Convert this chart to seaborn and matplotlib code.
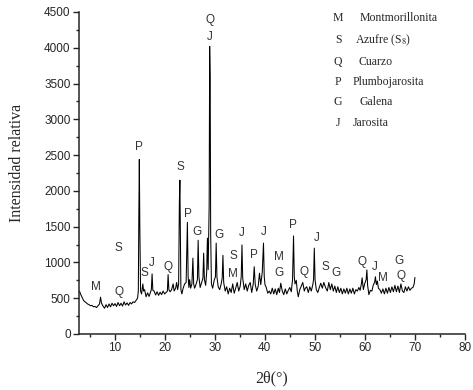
import matplotlib
matplotlib.use("Agg")
import matplotlib.pyplot as plt
from matplotlib.ticker import MultipleLocator
import seaborn as sns

# ----------------------------
# Diffractogram trace (2theta, relative intensity)
# one row of two_theta goes with the same row of intensity
# ----------------------------
two_theta = [
    3.0, 3.2, 3.4, 3.6, 3.8, 4.0, 4.3, 4.6, 4.9, 5.2, 5.5, 5.8, 6.1, 6.4, 6.7, 7.0, 7.2, 7.4, 7.7,
    8.0, 8.3, 8.6, 8.9, 9.2, 9.5, 9.8, 10.1, 10.4, 10.7, 11.0, 11.3, 11.6, 11.9, 12.2, 12.5, 12.8,
    13.1, 13.4, 13.7, 14.0, 14.3, 14.6, 14.75, 14.85, 14.95, 15.05, 15.2, 15.4, 15.65, 15.8, 16.0,
    16.3, 16.6, 16.9, 17.2, 17.35, 17.5, 17.65, 17.9, 18.2, 18.5, 18.8, 19.1, 19.4, 19.7, 20.0,
    20.3, 20.55, 20.7, 20.85, 21.1, 21.4, 21.7, 21.9, 22.2, 22.4, 22.6, 22.8, 22.95, 23.05, 23.15,
    23.25, 23.45, 23.7, 24.0, 24.3, 24.55, 24.7, 24.85, 25.0, 25.2, 25.45, 25.65, 25.8, 26.0, 26.3,
    26.55, 26.7, 26.85, 27.1, 27.4, 27.65, 27.8, 27.95, 28.2, 28.4, 28.55, 28.7, 28.9, 29.0,
    29.1, 29.2, 29.35, 29.6, 29.9, 30.15, 30.3, 30.45, 30.7, 31.0, 31.3, 31.5, 31.65, 31.8, 32.1,
    32.4, 32.7, 33.0, 33.3, 33.6, 33.9, 34.2, 34.5, 34.8, 35.1, 35.3, 35.45, 35.6, 35.9, 36.2,
    36.5, 36.8, 37.1, 37.4, 37.7, 37.9, 38.1, 38.4, 38.7, 38.95, 39.2, 39.5, 39.75, 39.9, 40.05,
    40.3, 40.6, 40.9, 41.2, 41.5, 41.8, 42.1, 42.4, 42.7, 42.95, 43.2, 43.5, 43.8, 44.1, 44.4,
    44.7, 45.0, 45.3, 45.55, 45.75, 45.9, 46.05, 46.3, 46.5, 46.7, 47.0, 47.3, 47.6, 47.9, 48.1,
    48.4, 48.7, 49.0, 49.3, 49.6, 49.75, 49.9, 50.05, 50.3, 50.6, 50.9, 51.2, 51.5, 51.8, 52.2,
    52.5, 52.8, 53.1, 53.4, 53.7, 54.0, 54.3, 54.6, 54.9, 55.2, 55.5, 55.8, 56.1, 56.4, 56.7,
    57.0, 57.3, 57.6, 57.9, 58.2, 58.5, 58.8, 59.05, 59.3, 59.45, 59.7, 59.95, 60.25, 60.4, 60.55,
    60.8, 61.1, 61.4, 61.7, 61.95, 62.1, 62.3, 62.5, 62.7, 63.0, 63.3, 63.6, 63.9, 64.2, 64.5,
    64.8, 65.1, 65.4, 65.7, 66.0, 66.3, 66.6, 66.9, 67.2, 67.5, 67.8, 68.1, 68.4, 68.7, 69.0,
    69.3, 69.6, 69.85, 70.0,
]
intensity = [
    600, 560, 530, 500, 470, 455, 440, 420, 410, 395, 400, 380, 385, 370, 395, 420, 515, 430, 390,
    360, 410, 370, 420, 380, 430, 395, 425, 385, 440, 395, 430, 390, 450, 405, 435, 400,
    440, 420, 450, 440, 470, 500, 600, 1650, 2440, 1500, 600, 560, 700, 600, 620,
    520, 575, 525, 590, 620, 840, 610, 600, 545, 590, 540, 585, 550, 600, 560,
    580, 600, 830, 620, 590, 620, 700, 600, 640, 720, 620, 700, 1850, 2150, 1300,
    620, 560, 640, 700, 720, 1560, 800, 650, 760, 640, 700, 1060, 700, 640, 700,
    760, 1310, 800, 650, 720, 780, 1130, 760, 680, 860, 1340, 900, 1800, 4020,
    3600, 1400, 700, 640, 750, 800, 1270, 800, 660, 620, 700, 780, 1100, 720, 600,
    660, 560, 640, 580, 700, 570, 640, 720, 600, 670, 800, 1245, 780, 620, 700,
    600, 680, 720, 580, 700, 940, 690, 600, 670, 850, 690, 860, 1270, 800, 690,
    650, 570, 600, 560, 640, 560, 630, 550, 640, 580, 710, 600, 550, 630, 560,
    610, 650, 590, 760, 1370, 800, 700, 750, 600, 520, 620, 670, 720, 600, 640,
    660, 580, 660, 600, 690, 760, 1200, 760, 620, 580, 650, 710, 640, 720, 640,
    600, 720, 620, 700, 600, 670, 580, 660, 580, 640, 560, 630, 570, 640, 560,
    630, 570, 640, 560, 620, 600, 650, 610, 700, 785, 620, 700, 760, 895, 680,
    550, 610, 600, 690, 720, 800, 690, 740, 640, 620, 570, 630, 560, 640, 570,
    650, 580, 660, 590, 680, 590, 670, 580, 700, 600, 580, 660, 600, 660, 610,
    640, 650, 700, 790,
]

# Phase letters over the peaks
peak_letters = ["M", "S", "Q", "P", "S", "J", "Q", "S", "P", "G", "Q", "J", "G", "S", "M",
                "J", "P", "J", "M", "G", "P", "Q", "J", "S", "G", "Q", "J", "M", "G", "Q"]
peak_x = [6.3, 10.7, 10.9, 14.9, 15.9, 17.5, 20.7, 23.1, 24.7, 26.5, 29.1, 29.1, 30.9, 33.7, 33.7,
          35.5, 37.9, 39.9, 42.9, 42.9, 45.7, 47.9, 50.3, 52.1, 54.3, 59.5, 61.9, 63.7, 66.9, 67.3]
peak_y = [657, 1201, 587, 2612, 852, 992, 936, 2333, 1676, 1425, 4387, 4149, 1383, 1090, 838,
          1411, 1104, 1425, 1076, 852, 1523, 866, 1341, 936, 852, 1006, 936, 782, 1020, 810]

# Legend key
key_letters = ["M", "S", "Q", "P", "G", "J"]
key_names = ["Montmorillonita", r"Azufre (S$_{8}$)", "Cuarzo", "Plumbojarosita", "Galena", "Jarosita"]

# ----------------------------
# Plot
# ----------------------------
sns.set_style("ticks")
plt.rcParams["font.family"] = ["Liberation Sans", "DejaVu Sans"]
plt.rcParams["mathtext.fontset"] = "stix"

W, H = 473, 390
fig = plt.figure(figsize=(W / 100, H / 100), dpi=100)
ax = fig.add_axes([79 / W, 1 - 334 / H, (465 - 79) / W, (334 - 12) / H])

sns.lineplot(x=two_theta, y=intensity, color="black", linewidth=0.75, ax=ax)

for let, px, py in zip(peak_letters, peak_x, peak_y):
    ax.text(px, py, let, ha="center", va="center", fontsize=8.5, color="#333333")

ax.set_xlim(2.9, 80)
ax.set_ylim(0, 4500)
ax.xaxis.set_major_locator(MultipleLocator(10))
ax.xaxis.set_minor_locator(MultipleLocator(5))
ax.yaxis.set_major_locator(MultipleLocator(500))
ax.yaxis.set_minor_locator(MultipleLocator(250))
ax.set_xticks(range(10, 90, 10))
ax.tick_params(which="major", direction="out", length=4, width=1, labelsize=8.5, pad=2)
ax.tick_params(which="minor", direction="out", length=2.5, width=1)
sns.despine(ax=ax)
for sp in ["left", "bottom"]:
    ax.spines[sp].set_linewidth(1.1)
ax.set_xlabel("")
ax.set_ylabel("")

fig.text(272 / W, 1 - 378 / H, "2θ(°)", ha="center", va="center", fontsize=11.5,
         family=["Liberation Serif", "DejaVu Serif"])
fig.text(17 / W, 1 - 163 / H, "Intensidad relativa", ha="center", va="center", rotation=90,
         fontsize=11.5, family=["Liberation Serif", "DejaVu Serif"])

# key in the top right corner
key_y = [18, 40, 62, 82, 102, 123]
name_x = [360, 355, 358, 353, 360, 353]
for let, name, ky, nx in zip(key_letters, key_names, key_y, name_x):
    fig.text(338 / W, 1 - ky / H, let, ha="center", va="center", fontsize=8.5,
             family=["Liberation Serif", "DejaVu Serif"])
    fig.text(nx / W, 1 - ky / H, name, ha="left", va="center", fontsize=8.5,
             family=["Liberation Serif", "DejaVu Serif"])

fig.savefig("out.png", dpi=100)
